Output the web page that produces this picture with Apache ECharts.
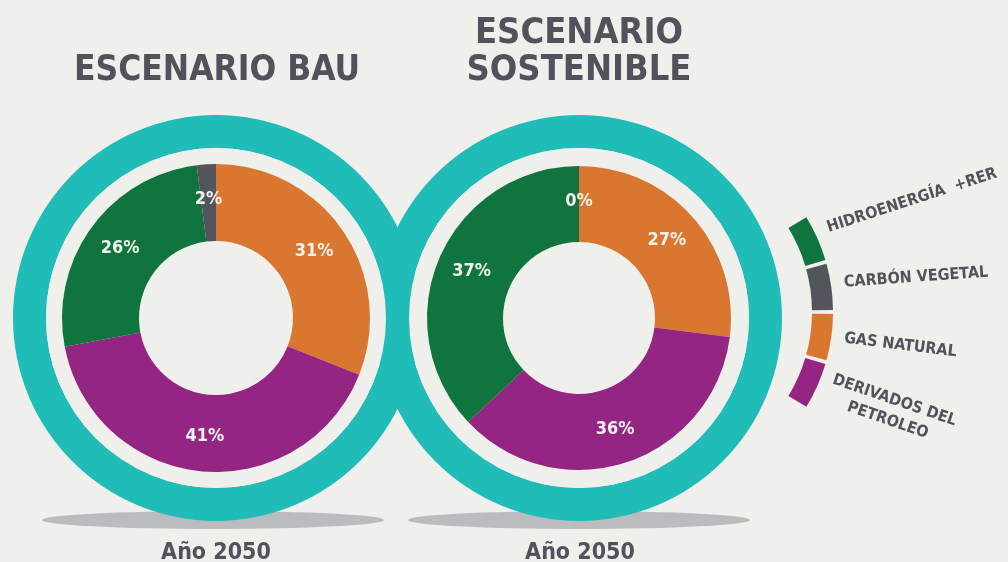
<!DOCTYPE html>
<html lang="es">
<head>
<meta charset="UTF-8">
<title>Escenarios 2050</title>
<script src="https://cdn.jsdelivr.net/npm/echarts@6/dist/echarts.min.js"></script>
<style>html, body { margin: 0; background: #efefeb; }</style>
</head>
<body>
<div id="main" style="width: 1008px; height: 562px"></div>
<script>
    // datos
    var fuentes = ['HIDROENERGÍA  +RER', 'CARBÓN VEGETAL', 'GAS NATURAL', 'DERIVADOS DEL\nPETROLEO'];
    var bau = [26, 2, 31, 41];
    var sostenible = [37, 0, 27, 36];
    var escenarios = ['ESCENARIO BAU', 'ESCENARIO\nSOSTENIBLE'];
    var anio = 'Año 2050';

    // estilos
    var colores = ['#0f743d', '#52555c', '#d97730', '#942582'];
    var orden = [2, 3, 0, 1];          // gas, derivados, hidro, carbón (sentido horario desde las 12)
    var giro = [18, 4, -7, -19];       // inclinación de los textos de la leyenda
    var subir = [14, 6, 0, 0];         // ajuste vertical de los textos de la leyenda
    var FONT = "'DejaVu Sans Condensed', 'DejaVu Sans', sans-serif";
    var GRIS = '#50535b';
    var FONDO = '#efefeb';
    var TEAL = '#1fbcb8';

    var myChart = echarts.init(document.getElementById('main'), null, { renderer: 'canvas' });

    function donut(valores) {
        return orden.map(function (i) {
            return { name: fuentes[i], value: valores[i], itemStyle: { color: colores[i] } };
        });
    }

    function disco(centro, radio, color) {
        return {
            type: 'pie', center: centro, radius: radio, silent: true, animation: false,
            label: { show: false }, labelLine: { show: false },
            data: [{ value: 1, itemStyle: { color: color } }]
        };
    }

    function anillo(centro, radio, valores) {
        return {
            type: 'pie', center: centro, radius: radio, startAngle: 90, clockwise: true,
            silent: true, animation: false, avoidLabelOverlap: false,
            label: {
                show: true, position: 'inside', formatter: '{c}%',
                color: '#f3f2ec', fontSize: 18, fontWeight: 'bold', fontFamily: FONT
            },
            labelLine: { show: false },
            data: donut(valores)
        };
    }

    var leyenda = fuentes.map(function (n, i) {
        return {
            name: n, value: 1, itemStyle: { color: colores[i] },
            label: { rotate: giro[i], padding: [0, 0, subir[i], 0] }
        };
    });
    leyenda.push({ name: '', value: 18.5, itemStyle: { color: 'rgba(0,0,0,0)' }, label: { show: false } });

    var option = {
        backgroundColor: FONDO,
        animation: false,
        title: [{
            text: escenarios[0], left: 212, top: 48, textAlign: 'center',
            textStyle: { color: GRIS, fontSize: 35, fontWeight: 'bold', fontFamily: FONT }
        }, {
            text: escenarios[1], left: 574, top: 10, textAlign: 'center',
            textStyle: { color: GRIS, fontSize: 36, lineHeight: 37, fontWeight: 'bold', fontFamily: FONT }
        }, {
            text: anio, left: 211, top: 537, textAlign: 'center',
            textStyle: { color: GRIS, fontSize: 23, fontWeight: 'bold', fontFamily: FONT }
        }, {
            text: anio, left: 575, top: 537, textAlign: 'center',
            textStyle: { color: GRIS, fontSize: 23, fontWeight: 'bold', fontFamily: FONT }
        }],
        graphic: [
            { type: 'circle', z: 0, silent: true, x: 213, y: 520, scaleY: 9 / 171, shape: { cx: 0, cy: 0, r: 171 }, style: { fill: '#bbbcc0' } },
            { type: 'circle', z: 0, silent: true, x: 579, y: 520, scaleY: 9 / 171, shape: { cx: 0, cy: 0, r: 171 }, style: { fill: '#bbbcc0' } }
        ],
        series: [
            disco([216, 318], [170, 203], TEAL),
            disco([579, 318], [170, 203], TEAL),
            disco([216, 318], [0, 170], FONDO),
            disco([579, 318], [0, 170], FONDO),
            anillo([216, 318], [77, 154], bau),
            anillo([579, 318], [76, 152], sostenible),
            {
                type: 'pie', center: [651, 312], radius: [161, 182], startAngle: 32, clockwise: true,
                padAngle: 1.2, silent: true, animation: false, avoidLabelOverlap: false,
                label: {
                    show: true, position: 'outside',
                    formatter: function (p) {
                        return p.name.split('\n').map(function (s) { return '{c|' + s + '}'; }).join('\n');
                    },
                    rich: {
                        c: { align: 'center', color: GRIS, fontSize: 16, lineHeight: 21, fontWeight: 'bold', fontFamily: FONT }
                    }
                },
                labelLine: { show: false, length: 8, length2: 0 },
                data: leyenda
            }
        ]
    };
    myChart.setOption(option);
</script>
</body>
</html>
